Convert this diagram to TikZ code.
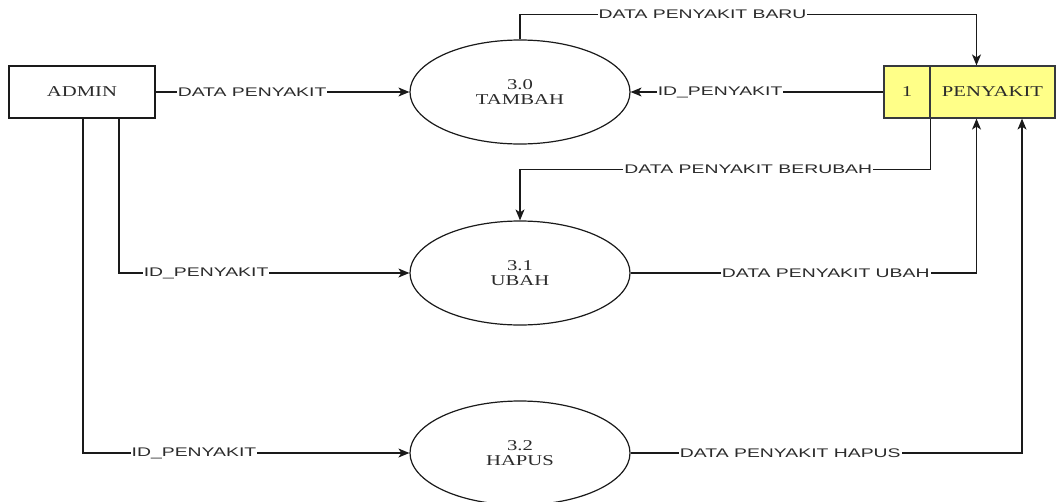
\documentclass[tikz,border=0pt]{standalone}
\usepackage{fontspec}
\usepackage{xcolor}
\definecolor{LineDark}{HTML}{1A1A1A}
\definecolor{TextDark}{HTML}{2B2B2B}
\definecolor{StoreYellow}{HTML}{FFFF88}
\definecolor{StoreEdge}{HTML}{36393D}
\newfontfamily\lblfont[FakeStretch=1.55]{Liberation Sans}
\newfontfamily\procfont[FakeStretch=1.38]{Liberation Serif}
\usetikzlibrary{shapes.geometric, arrows.meta, positioning}
\tikzset{
  proc/.style={ellipse, draw=LineDark, line width=1.2pt, minimum width=220pt, minimum height=104pt,
               inner sep=0pt, align=center, text=TextDark, font=\fontsize{15}{15}\procfont},
  ent/.style={rectangle, draw=LineDark, line width=1.2pt, minimum width=146pt, minimum height=52pt,
              inner sep=0pt, text=TextDark, font=\fontsize{15}{15}\procfont},
  store/.style={rectangle, draw=StoreEdge, line width=1.2pt, fill=StoreYellow, minimum height=52pt,
                minimum width=#1, inner sep=0pt, text=TextDark, font=\fontsize{15}{15}\procfont},
  arr/.style={-{Stealth[length=11pt, width=9pt, inset=3pt]}, line width=1.2pt, color=LineDark},
  lbl/.style={fill=white, inner sep=1pt, text=TextDark, font=\fontsize{12.5}{13}\lblfont},
}
\begin{document}
\begin{tikzpicture}[x=1pt, y=-1pt]

  \useasboundingbox (0,0) rectangle (1060,501);

  % External entity
  \node[ent] (admin) at (82,92) {ADMIN};

  % Processes
  \node[proc] (tambah) at (520,92)  {3.0\\TAMBAH};
  \node[proc] (ubah)   at (520,273) {3.1\\UBAH};
  \node[proc] (hapus)  at (520,453) {3.2\\HAPUS};

  % Data store
  \node[store=46pt]  (storeid) at (907,92)   {1};
  \node[store=125pt] (store)   at (992.5,92) {PENYAKIT};

  % Flows
  \draw[arr] (admin.east) -- node[lbl, pos=0.38] {DATA PENYAKIT} (tambah.west);
  \draw[arr] (tambah.north) -- ++(0,-25)
    -| node[lbl, pos=0.2] {DATA PENYAKIT BARU} ([xshift=-16pt]store.north);
  \draw[arr] (storeid.west) -- node[lbl, pos=0.646] {ID\_PENYAKIT} (tambah.east);
  \draw[arr] (storeid.south east) -- ++(0,51)
    -| node[lbl, pos=0.222] {DATA PENYAKIT BERUBAH} (ubah.north);
  \draw[arr] ([xshift=37pt]admin.south) |- node[lbl, pos=0.65] {ID\_PENYAKIT} (ubah.west);
  \draw[arr] ([xshift=1pt]admin.south) |- node[lbl, pos=0.67] {ID\_PENYAKIT} (hapus.west);
  \draw[arr] (ubah.east) -| node[lbl, pos=0.282] {DATA PENYAKIT UBAH} ([xshift=-16pt]store.south);
  \draw[arr] (hapus.east) -| node[lbl, pos=0.204] {DATA PENYAKIT HAPUS} ([xshift=29.5pt]store.south);

\end{tikzpicture}
\end{document}
